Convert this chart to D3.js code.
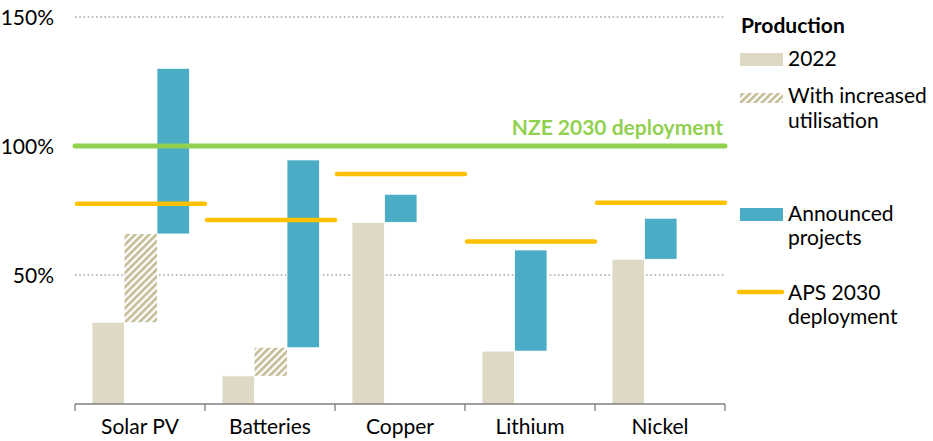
<!DOCTYPE html>
<html>
<head>
<meta charset="utf-8">
<script src="https://cdn.jsdelivr.net/npm/d3@7/dist/d3.min.js"></script>
<style>
  html, body { margin: 0; padding: 0; background: #fff; }
  svg { display: block; font-family: Lato, "Open Sans", sans-serif; }
</style>
</head>
<body>
<svg id="chart" width="933" height="441"></svg>
<script>
// Critical minerals: 2022 production, increased utilisation and announced projects vs 2030 deployment needs
const categories = ["Solar PV", "Batteries", "Copper", "Lithium", "Nickel"];
const production2022 = [31.7, 10.9, 70.4, 20.5, 56.1];
const withIncreasedUtilisation = [65.9, 21.8, null, null, null];
const announcedProjects = [130.1, 94.6, 81.3, 59.7, 72.0];
const aps2030 = [77.6, 71.3, 89.1, 63.0, 78.0];
const nze2030 = 100;
const yTicks = [50, 100, 150];

const colors = {
  prod: "#DDD9C4",
  hatch: "#C4BD97",
  announced: "#4BACC6",
  aps: "#FFC000",
  nze: "#92D050",
  grid: "#A6A6A6",
  axis: "#7F7F7F",
  text: "#000"
};
const fontSize = 21;

const svg = d3.select("#chart");
const plot = { left: 75, right: 725, top: 17, bottom: 404 };

const x = d3.scaleBand().domain(categories).range([plot.left, plot.right]).padding(0);
const slot = d3.scaleBand().domain([0, 1, 2]).range([17, 114.5]).padding(0);
const y = d3.scaleLinear().domain([0, 150]).range([plot.bottom, plot.top]);

// hatch pattern for the utilisation segment
const defs = svg.append("defs");
const pat = defs.append("pattern")
  .attr("id", "hatch")
  .attr("patternUnits", "userSpaceOnUse")
  .attr("width", 5).attr("height", 5)
  .attr("patternTransform", "rotate(45)");
pat.append("rect").attr("width", 5).attr("height", 5).attr("fill", "#fff");
pat.append("rect").attr("width", 2.7).attr("height", 5).attr("fill", colors.hatch);

// dotted gridlines
svg.append("g").selectAll("line").data(yTicks).join("line")
  .attr("x1", plot.left).attr("x2", plot.right)
  .attr("y1", d => y(d)).attr("y2", d => y(d))
  .attr("stroke", colors.grid).attr("stroke-width", 1.6)
  .attr("stroke-dasharray", "1.6 2.6");

// y tick labels
svg.append("g").selectAll("text").data(yTicks).join("text")
  .attr("x", 54).attr("y", d => y(d) + 7.5)
  .attr("text-anchor", "end")
  .attr("font-size", fontSize).attr("fill", colors.text)
  .text(d => d + "%");

const rows = categories.map((c, i) => ({
  cat: c,
  prod: production2022[i],
  util: withIncreasedUtilisation[i],
  ann: announcedProjects[i],
  aps: aps2030[i]
}));

const bars = svg.append("g");
// 2022 production
bars.selectAll("rect.prod").data(rows).join("rect").attr("class", "prod")
  .attr("x", d => x(d.cat) + slot(0)).attr("width", slot.bandwidth())
  .attr("y", d => y(d.prod)).attr("height", d => y(0) - y(d.prod))
  .attr("fill", colors.prod).attr("stroke", "#fff").attr("stroke-width", 0.8);

// with increased utilisation
bars.selectAll("rect.util").data(rows.filter(d => d.util != null)).join("rect").attr("class", "util")
  .attr("x", d => x(d.cat) + slot(1)).attr("width", slot.bandwidth())
  .attr("y", d => y(d.util)).attr("height", d => y(d.prod) - y(d.util))
  .attr("fill", "url(#hatch)");

// announced projects, stacked on the previous level
bars.selectAll("rect.ann").data(rows).join("rect").attr("class", "ann")
  .attr("x", d => x(d.cat) + slot(d.util != null ? 2 : 1)).attr("width", slot.bandwidth())
  .attr("y", d => y(d.ann))
  .attr("height", d => y(d.util != null ? d.util : d.prod) - y(d.ann))
  .attr("fill", colors.announced).attr("stroke", "#fff").attr("stroke-width", 0.8);

// APS 2030 deployment markers
svg.append("g").selectAll("line").data(rows).join("line")
  .attr("x1", d => x(d.cat) + 2).attr("x2", d => x(d.cat) + x.bandwidth())
  .attr("y1", d => y(d.aps)).attr("y2", d => y(d.aps))
  .attr("stroke", colors.aps).attr("stroke-width", 4.5).attr("stroke-linecap", "round");

// NZE 2030 deployment line
svg.append("line")
  .attr("x1", plot.left).attr("x2", plot.right)
  .attr("y1", y(nze2030)).attr("y2", y(nze2030))
  .attr("stroke", colors.nze).attr("stroke-width", 5).attr("stroke-linecap", "round");
svg.append("text")
  .attr("x", plot.right - 2).attr("y", y(nze2030) - 11)
  .attr("text-anchor", "end").attr("font-size", fontSize).attr("font-weight", 700)
  .attr("fill", colors.nze)
  .text("NZE 2030 deployment");

// x axis: baseline, boundary ticks and category labels
const ax = svg.append("g");
ax.append("line")
  .attr("x1", plot.left).attr("x2", plot.right)
  .attr("y1", plot.bottom).attr("y2", plot.bottom)
  .attr("stroke", colors.axis).attr("stroke-width", 1.3);
const bounds = categories.map(c => x(c)).concat([x.range()[1]]);
ax.selectAll("line.tick").data(bounds).join("line").attr("class", "tick")
  .attr("x1", d => d).attr("x2", d => d)
  .attr("y1", plot.bottom).attr("y2", plot.bottom + 7)
  .attr("stroke", colors.axis).attr("stroke-width", 1.3);
ax.selectAll("text").data(categories).join("text")
  .attr("x", d => x(d) + x.bandwidth() / 2).attr("y", plot.bottom + 30)
  .attr("text-anchor", "middle").attr("font-size", fontSize).attr("fill", colors.text)
  .text(d => d);

// legend
const lg = svg.append("g").attr("font-size", fontSize).attr("fill", colors.text);
lg.append("text").attr("x", 741).attr("y", 33).attr("font-weight", 700).text("Production");
lg.append("rect").attr("x", 740).attr("y", 53).attr("width", 43).attr("height", 13).attr("fill", colors.prod);
lg.append("text").attr("x", 788).attr("y", 66).text("2022");
lg.append("rect").attr("x", 740).attr("y", 93).attr("width", 43).attr("height", 10).attr("fill", "url(#hatch)");
lg.append("text").attr("x", 788).attr("y", 103).text("With increased");
lg.append("text").attr("x", 788).attr("y", 128).text("utilisation");
lg.append("rect").attr("x", 740).attr("y", 208).attr("width", 43).attr("height", 13).attr("fill", colors.announced);
lg.append("text").attr("x", 788).attr("y", 221).text("Announced");
lg.append("text").attr("x", 788).attr("y", 245).text("projects");
lg.append("line").attr("x1", 739).attr("x2", 782).attr("y1", 292).attr("y2", 292)
  .attr("stroke", colors.aps).attr("stroke-width", 4.5).attr("stroke-linecap", "round");
lg.append("text").attr("x", 788).attr("y", 300).text("APS 2030");
lg.append("text").attr("x", 788).attr("y", 324).text("deployment");
</script>
</body>
</html>
